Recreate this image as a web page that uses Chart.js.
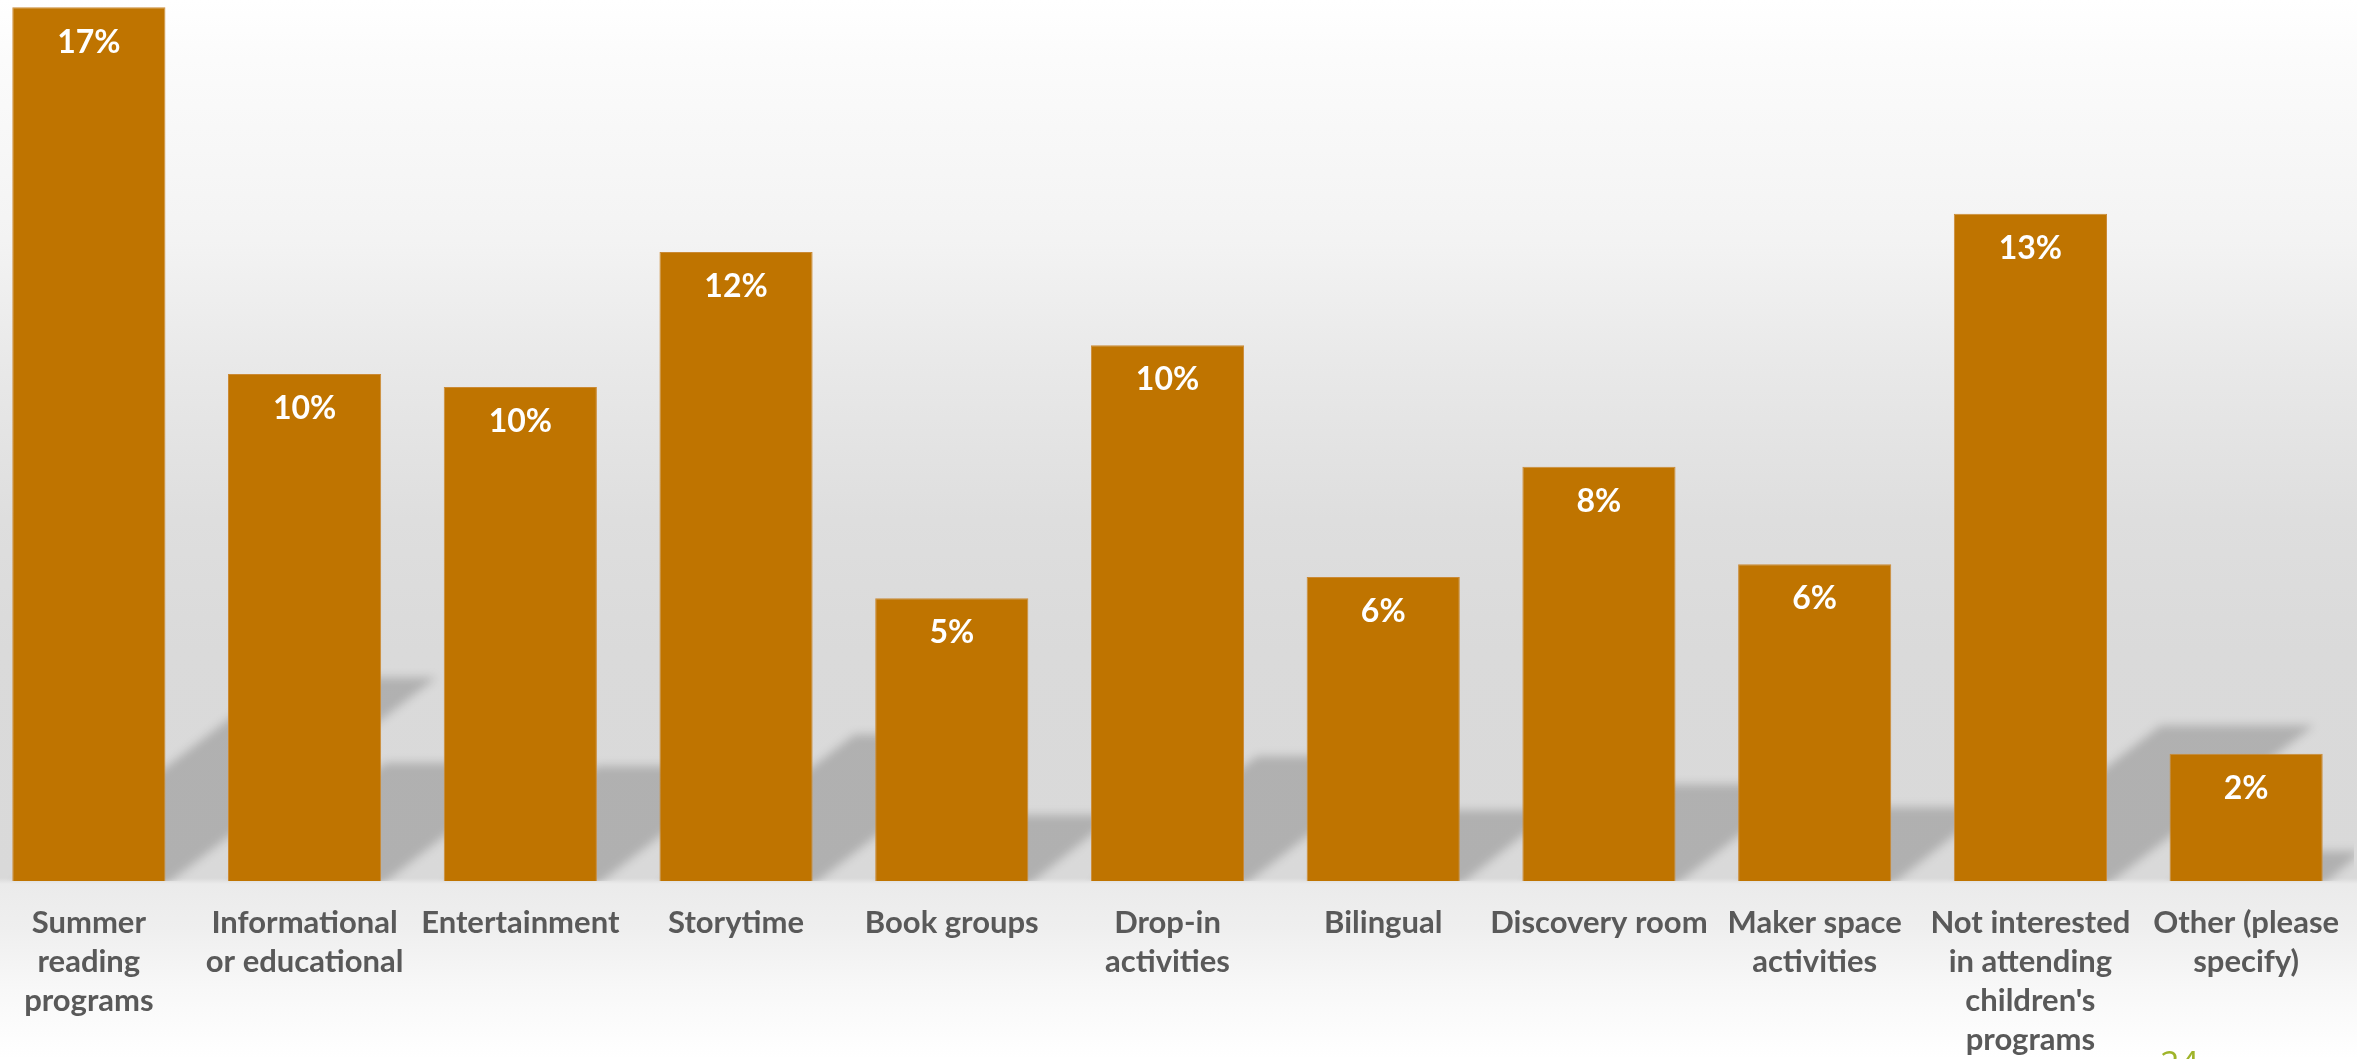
<!DOCTYPE html>
<html>
<head>
<meta charset="utf-8">
<script src="https://cdn.jsdelivr.net/npm/chart.js@4/dist/chart.umd.min.js"></script>
<style>
  html, body { margin: 0; padding: 0; width: 2371px; height: 1059px; overflow: hidden; background: #ffffff; }
  #panel {
    position: absolute; left: 0; top: 0; width: 2357px; height: 1059px;
    background: linear-gradient(to bottom,
      #ffffff 0px, #fbfbfb 60px, #f3f3f3 240px, #e9e9e9 360px, #dedede 520px,
      #dadada 650px, #d9d9d9 878px, #ebebeb 884px, #efefef 930px, #f8f8f8 990px, #ffffff 1059px);
  }
  #wrap { position: absolute; left: -19px; top: 0; width: 2373px; height: 1059px; }
  #page { position: absolute; left: 2160px; top: 1043px; font: 34px 'Open Sans', sans-serif; color: #9fb42a; line-height: 40px; }
</style>
</head>
<body>
<div id="panel"></div>
<div id="wrap"><canvas id="c" width="2373" height="1059"></canvas></div>
<div id="page">24</div>
<script>
const categories = [
  ["Summer", "reading", "programs"],
  ["Informational", "or educational"],
  "Entertainment",
  "Storytime",
  "Book groups",
  ["Drop-in", "activities"],
  "Bilingual",
  "Discovery room",
  ["Maker space", "activities"],
  ["Not interested", "in attending", "children's", "programs"],
  ["Other (please", "specify)"]
];
const percentValues = [16.96, 9.84, 9.59, 12.21, 5.49, 10.40, 5.90, 8.04, 6.15, 12.95, 2.47];
const yAxisMax = 17.1;

const shadowPlugin = {
  id: 'shadowPlugin',
  beforeDatasetsDraw(chart) {
    const ctx = chart.ctx;
    const area = chart.chartArea;
    const meta = chart.getDatasetMeta(0);
    ctx.save();
    ctx.beginPath();
    ctx.rect(area.left, area.top, area.right - area.left, area.bottom - area.top);
    ctx.clip();
    ctx.filter = 'blur(5px)';
    ctx.fillStyle = 'rgba(0,0,0,0.19)';
    const k = 0.31, s = 0.233;
    meta.data.forEach(bar => {
      const p = bar.getProps(['x', 'y', 'base', 'width'], true);
      const h = p.base - p.y;
      const xl = p.x - p.width / 2, xr = p.x + p.width / 2;
      ctx.beginPath();
      ctx.moveTo(xl, p.base + 4);
      ctx.lineTo(xr, p.base + 4);
      ctx.lineTo(xr + k * h, p.base - s * h);
      ctx.lineTo(xl + k * h, p.base - s * h);
      ctx.closePath();
      ctx.fill();
    });
    ctx.restore();
  }
};

const valueLabelPlugin = {
  id: 'valueLabelPlugin',
  afterDatasetsDraw(chart) {
    const ctx = chart.ctx;
    const meta = chart.getDatasetMeta(0);
    const data = chart.data.datasets[0].data;
    ctx.save();
    ctx.fillStyle = '#ffffff';
    ctx.font = 'bold 32px Lato, sans-serif';
    ctx.textAlign = 'center';
    ctx.textBaseline = 'middle';
    meta.data.forEach((bar, i) => {
      const p = bar.getProps(['x', 'y'], true);
      ctx.fillText(Math.round(data[i]) + '%', p.x, p.y + 35);
    });
    ctx.restore();
  }
};

new Chart(document.getElementById('c'), {
  type: 'bar',
  data: {
    labels: categories,
    datasets: [{
      data: percentValues,
      backgroundColor: '#BF7400',
      borderColor: '#CB8A35',
      borderWidth: 1,
      categoryPercentage: 1.0,
      barPercentage: 0.71
    }]
  },
  options: {
    responsive: false,
    animation: false,
    layout: { padding: 0 },
    plugins: { legend: { display: false }, tooltip: { enabled: false } },
    scales: {
      x: {
        grid: { display: false, drawTicks: false },
        border: { display: false },
        ticks: {
          color: '#595959',
          font: { family: 'Lato', size: 31, weight: 'bold', lineHeight: 1.26 },
          padding: 22,
          maxRotation: 0,
          autoSkip: false
        },
        afterFit(scale) {
          scale.height = 178;
          scale.paddingLeft = 0;
          scale.paddingRight = 0;
        }
      },
      y: {
        display: false,
        min: 0,
        max: yAxisMax
      }
    }
  },
  plugins: [shadowPlugin, valueLabelPlugin]
});
</script>
</body>
</html>
